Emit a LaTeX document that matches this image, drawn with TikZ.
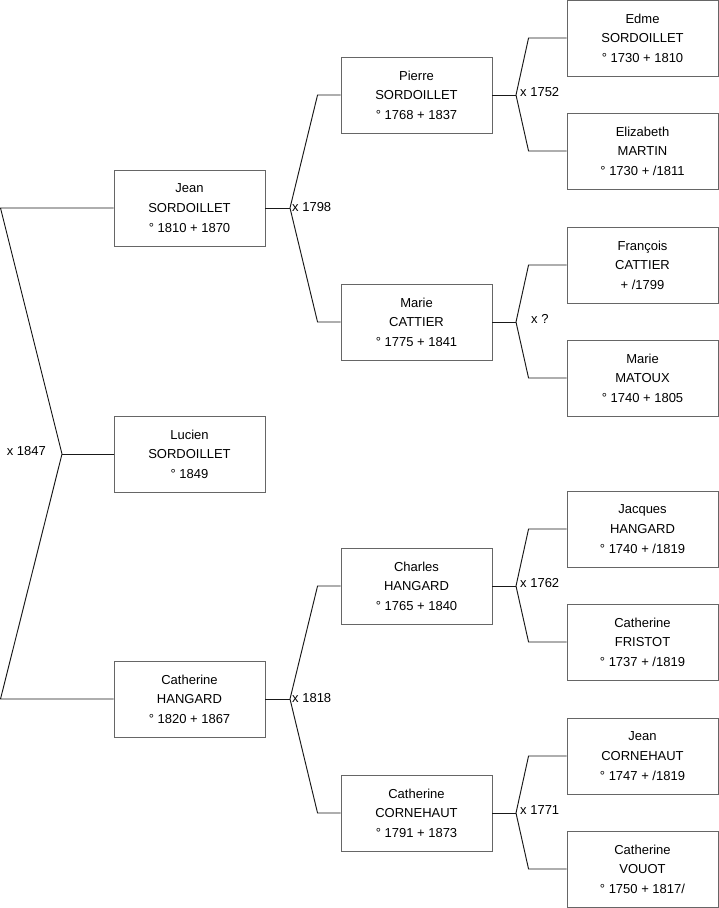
\documentclass[tikz,border=0pt]{standalone}
\usepackage{fontspec}
\setmainfont{Liberation Sans}
\tikzset{
  personbox/.style={draw=black!60, line width=0.9pt, minimum width=151pt, minimum height=76pt,
    inner sep=0pt, align=center, font=\fontsize{13}{19.6}\selectfont,
    append after command={[draw=black!85, line width=1pt] (\tikzlastnode.north east) -- (\tikzlastnode.south east) -- (\tikzlastnode.south west)}},
  link/.style={draw=black!90, line width=0.95pt},
  marr/.style={font=\fontsize{13}{15}\selectfont, inner sep=1pt}
}
\begin{document}
\begin{tikzpicture}[x=1pt,y=-1pt]
\useasboundingbox (0,0) rectangle (719,908);
% column 1
\node[personbox] (jean) at (189.5,208) {Jean\\SORDOILLET\\° 1810 + 1870};
\node[personbox] (lucien) at (189.5,454) {Lucien\\SORDOILLET\\° 1849};
\node[personbox] (cath) at (189.5,699) {Catherine\\HANGARD\\° 1820 + 1867};
% column 2
\node[personbox] (pierre) at (416.5,95) {Pierre\\SORDOILLET\\° 1768 + 1837};
\node[personbox] (mariec) at (416.5,322) {Marie\\CATTIER\\° 1775 + 1841};
\node[personbox] (charles) at (416.5,586) {Charles\\HANGARD\\° 1765 + 1840};
\node[personbox] (cathc) at (416.5,813) {Catherine\\CORNEHAUT\\° 1791 + 1873};
% column 3
\node[personbox] (edme) at (642.5,38) {Edme\\SORDOILLET\\° 1730 + 1810};
\node[personbox] (eliz) at (642.5,151) {Elizabeth\\MARTIN\\° 1730 + /1811};
\node[personbox] (franc) at (642.5,265) {François\\CATTIER\\ + /1799};
\node[personbox] (mariem) at (642.5,378) {Marie\\MATOUX\\° 1740 + 1805};
\node[personbox] (jacq) at (642.5,529) {Jacques\\HANGARD\\° 1740 + /1819};
\node[personbox] (fris) at (642.5,642) {Catherine\\FRISTOT\\° 1737 + /1819};
\node[personbox] (jeanc) at (642.5,756) {Jean\\CORNEHAUT\\° 1747 + /1819};
\node[personbox] (vouot) at (642.5,869) {Catherine\\VOUOT\\° 1750 + 1817/};
% junction coordinates
\coordinate (ltop) at (0.5,208);
\coordinate (lbot) at (0.5,699);
\coordinate (m1847) at (62,454);
\coordinate (m1798) at (290,208);
\coordinate (m1818) at (290,699);
\coordinate (m1752) at (516,95);
\coordinate (mq) at (516,322);
\coordinate (m1762) at (516,586);
\coordinate (m1771) at (516,813);
% connectors
\draw[link] (jean.west) -- (ltop) -- (m1847) -- (lbot) -- (cath.west);
\draw[link] (m1847) -- (lucien.west);
\draw[link] (jean.east) -- (m1798);
\draw[link] (pierre.west) -- ([xshift=-23pt]pierre.west) -- (m1798) -- ([xshift=-23pt]mariec.west) -- (mariec.west);
\draw[link] (cath.east) -- (m1818);
\draw[link] (charles.west) -- ([xshift=-23pt]charles.west) -- (m1818) -- ([xshift=-23pt]cathc.west) -- (cathc.west);
\draw[link] (pierre.east) -- (m1752);
\draw[link] (edme.west) -- ([xshift=-38pt]edme.west) -- (m1752) -- ([xshift=-38pt]eliz.west) -- (eliz.west);
\draw[link] (mariec.east) -- (mq);
\draw[link] (franc.west) -- ([xshift=-38pt]franc.west) -- (mq) -- ([xshift=-38pt]mariem.west) -- (mariem.west);
\draw[link] (charles.east) -- (m1762);
\draw[link] (jacq.west) -- ([xshift=-38pt]jacq.west) -- (m1762) -- ([xshift=-38pt]fris.west) -- (fris.west);
\draw[link] (cathc.east) -- (m1771);
\draw[link] (jeanc.west) -- ([xshift=-38pt]jeanc.west) -- (m1771) -- ([xshift=-38pt]vouot.west) -- (vouot.west);
% marriage labels
\node[marr, anchor=east] (l1847) at ([xshift=-15pt,yshift=3pt]m1847) {x 1847};
\node[marr, anchor=west] (l1798) at ([xshift=1pt,yshift=1pt]m1798) {x 1798};
\node[marr, anchor=west] (l1818) at ([xshift=1pt,yshift=1pt]m1818) {x 1818};
\node[marr, anchor=west] (l1752) at ([xshift=3pt,yshift=3pt]m1752) {x 1752};
\node[marr, anchor=west] (lq) at ([xshift=14pt,yshift=3pt]mq) {x ?};
\node[marr, anchor=west] (l1762) at ([xshift=3pt,yshift=3pt]m1762) {x 1762};
\node[marr, anchor=west] (l1771) at ([xshift=3pt,yshift=3pt]m1771) {x 1771};
\end{tikzpicture}
\end{document}
